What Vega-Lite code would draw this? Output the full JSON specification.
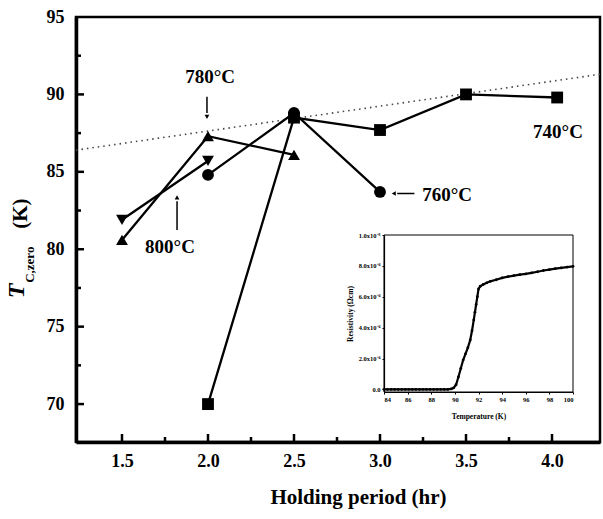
{
  "$schema": "https://vega.github.io/schema/vega-lite/v6.json",
  "width": 524,
  "height": 425,
  "autosize": "none",
  "padding": {"left": 76, "top": 17, "right": 3, "bottom": 77},
  "background": "white",
  "config": {
    "view": {"stroke": "black", "strokeWidth": 2.5},
    "font": "Liberation Serif"
  },
  "datasets": {
    "series": [
      {"series": "740", "hr": 2.0, "tc": 70.0},
      {"series": "740", "hr": 2.5, "tc": 88.5},
      {"series": "740", "hr": 3.0, "tc": 87.7},
      {"series": "740", "hr": 3.5, "tc": 90.0},
      {"series": "740", "hr": 4.03, "tc": 89.8},
      {"series": "760", "hr": 2.0, "tc": 84.8},
      {"series": "760", "hr": 2.5, "tc": 88.8},
      {"series": "760", "hr": 3.0, "tc": 83.7},
      {"series": "780", "hr": 1.5, "tc": 80.6},
      {"series": "780", "hr": 2.0, "tc": 87.3},
      {"series": "780", "hr": 2.5, "tc": 86.1},
      {"series": "800", "hr": 1.5, "tc": 81.9},
      {"series": "800", "hr": 2.0, "tc": 85.7}
    ],
    "trend": [
      {"hr": 1.2326, "tc": 86.4},
      {"hr": 4.279, "tc": 91.3}
    ],
    "notes": [
      {"hr": 2.012, "tc": 91.1, "label": "780°C"},
      {"hr": 1.779, "tc": 80.14, "label": "800°C"},
      {"hr": 3.39, "tc": 83.5, "label": "760°C"},
      {"hr": 4.035, "tc": 87.57, "label": "740°C"}
    ],
    "arrows": [
      {"hr": 1.994, "tc": 89.85, "hr2": 1.994, "tc2": 88.8},
      {"hr": 1.82, "tc": 81.24, "hr2": 1.82, "tc2": 83.1},
      {"hr": 3.2, "tc": 83.6, "hr2": 3.1, "tc2": 83.6}
    ],
    "heads": [
      {"hr": 1.994, "tc": 88.55, "series": "down"},
      {"hr": 1.82, "tc": 83.35, "series": "up"},
      {"hr": 3.08, "tc": 83.6, "series": "left"}
    ],
    "xticks": [
      {"hr": 1.5, "kind": "major"}, {"hr": 1.75, "kind": "minor"},
      {"hr": 2.0, "kind": "major"}, {"hr": 2.25, "kind": "minor"},
      {"hr": 2.5, "kind": "major"}, {"hr": 2.75, "kind": "minor"},
      {"hr": 3.0, "kind": "major"}, {"hr": 3.25, "kind": "minor"},
      {"hr": 3.5, "kind": "major"}, {"hr": 3.75, "kind": "minor"},
      {"hr": 4.0, "kind": "major"}
    ],
    "yticks": [
      {"tc": 70, "kind": "major"}, {"tc": 72.5, "kind": "minor"},
      {"tc": 75, "kind": "major"}, {"tc": 77.5, "kind": "minor"},
      {"tc": 80, "kind": "major"}, {"tc": 82.5, "kind": "minor"},
      {"tc": 85, "kind": "major"}, {"tc": 87.5, "kind": "minor"},
      {"tc": 90, "kind": "major"}, {"tc": 92.5, "kind": "minor"}
    ],
    "inset": [
      {"T": 84.0, "rho": 0.0}, {"T": 84.3, "rho": 0.0}, {"T": 84.6, "rho": 0.0},
      {"T": 84.9, "rho": 0.0}, {"T": 85.2, "rho": 0.0}, {"T": 85.5, "rho": 0.0},
      {"T": 85.8, "rho": 0.0}, {"T": 86.1, "rho": 0.0}, {"T": 86.4, "rho": 0.0},
      {"T": 86.7, "rho": 0.0}, {"T": 87.0, "rho": 0.0}, {"T": 87.3, "rho": 0.0},
      {"T": 87.6, "rho": 0.0}, {"T": 87.9, "rho": 0.0}, {"T": 88.2, "rho": 0.0},
      {"T": 88.5, "rho": 0.0}, {"T": 88.8, "rho": 0.0}, {"T": 89.1, "rho": 0.0},
      {"T": 89.4, "rho": 0.0}, {"T": 89.7, "rho": 0.000003},
      {"T": 89.9, "rho": 0.00001}, {"T": 90.1, "rho": 0.00003},
      {"T": 90.3, "rho": 0.00008}, {"T": 90.5, "rho": 0.000135},
      {"T": 90.7, "rho": 0.00019}, {"T": 90.9, "rho": 0.00023},
      {"T": 91.1, "rho": 0.00027}, {"T": 91.3, "rho": 0.00032},
      {"T": 91.45, "rho": 0.00038}, {"T": 91.6, "rho": 0.00045},
      {"T": 91.7, "rho": 0.0005}, {"T": 91.8, "rho": 0.00055},
      {"T": 91.9, "rho": 0.0006}, {"T": 92.0, "rho": 0.00065},
      {"T": 92.15, "rho": 0.000668}, {"T": 92.4, "rho": 0.00068},
      {"T": 92.7, "rho": 0.00069}, {"T": 93.0, "rho": 0.0007},
      {"T": 93.5, "rho": 0.00071}, {"T": 94.0, "rho": 0.000722},
      {"T": 94.5, "rho": 0.00073}, {"T": 95.0, "rho": 0.000737},
      {"T": 95.5, "rho": 0.000743}, {"T": 96.0, "rho": 0.000748},
      {"T": 96.5, "rho": 0.000755}, {"T": 97.0, "rho": 0.000762},
      {"T": 97.5, "rho": 0.00077}, {"T": 98.0, "rho": 0.000776},
      {"T": 98.5, "rho": 0.000782}, {"T": 99.0, "rho": 0.000787},
      {"T": 99.5, "rho": 0.000792}, {"T": 100.0, "rho": 0.000797}
    ]
  },
  "layer": [
    {
      "layer": [
        {
          "data": {"name": "trend"},
          "mark": {"type": "line", "color": "#444", "strokeWidth": 1.6, "strokeDash": [1.5, 4]},
          "encoding": {
            "x": {
              "field": "hr", "type": "quantitative",
              "scale": {"domain": [1.2326, 4.279], "nice": false, "zero": false},
              "axis": {
                "orient": "bottom",
                "title": "Holding period (hr)",
                "values": [1.5, 2, 2.5, 3, 3.5, 4],
                "format": ".1f",
                "ticks": false,
                "domainColor": "black", "domainWidth": 3.5,
                "grid": false,
                "labelFont": "Liberation Serif", "labelFontWeight": "bold", "labelFontSize": 18, "labelColor": "black",
                "labelPadding": 10,
                "titleFont": "Liberation Serif", "titleFontWeight": "bold", "titleFontSize": 21, "titleColor": "black",
                "titleX": 282, "titleY": 61, "titleBaseline": "alphabetic", "titleAlign": "center"
              }
            },
            "y": {
              "field": "tc", "type": "quantitative",
              "scale": {"domain": [67.55, 95], "nice": false, "zero": false},
              "axis": {
                "orient": "left",
                "title": null,
                "values": [70, 75, 80, 85, 90, 95],
                "format": "d",
                "ticks": false,
                "domainColor": "black", "domainWidth": 3.5,
                "grid": false,
                "labelFont": "Liberation Serif", "labelFontWeight": "bold", "labelFontSize": 18, "labelColor": "black",
                "labelPadding": 12
              }
            }
          }
        },
        {
          "data": {"name": "xticks"},
          "transform": [{"filter": "datum.kind === 'major'"}],
          "mark": {"type": "tick", "orient": "vertical", "color": "black", "thickness": 2.5, "opacity": 1, "size": 8, "yOffset": -4},
          "encoding": {
            "x": {"field": "hr", "type": "quantitative"},
            "y": {"datum": 67.55, "type": "quantitative"}
          }
        },
        {
          "data": {"name": "xticks"},
          "transform": [{"filter": "datum.kind === 'minor'"}],
          "mark": {"type": "tick", "orient": "vertical", "color": "black", "thickness": 2.5, "opacity": 1, "size": 5, "yOffset": -2.5},
          "encoding": {
            "x": {"field": "hr", "type": "quantitative"},
            "y": {"datum": 67.55, "type": "quantitative"}
          }
        },
        {
          "data": {"name": "yticks"},
          "transform": [{"filter": "datum.kind === 'major'"}],
          "mark": {"type": "tick", "orient": "horizontal", "color": "black", "thickness": 2.5, "opacity": 1, "size": 8, "xOffset": 4},
          "encoding": {
            "y": {"field": "tc", "type": "quantitative"},
            "x": {"datum": 1.2326, "type": "quantitative"}
          }
        },
        {
          "data": {"name": "yticks"},
          "transform": [{"filter": "datum.kind === 'minor'"}],
          "mark": {"type": "tick", "orient": "horizontal", "color": "black", "thickness": 2.5, "opacity": 1, "size": 5, "xOffset": 2.5},
          "encoding": {
            "y": {"field": "tc", "type": "quantitative"},
            "x": {"datum": 1.2326, "type": "quantitative"}
          }
        },
        {
          "data": {"name": "series"},
          "mark": {"type": "line", "color": "black", "strokeWidth": 2.3},
          "encoding": {
            "x": {"field": "hr", "type": "quantitative"},
            "y": {"field": "tc", "type": "quantitative"},
            "detail": {"field": "series"}
          }
        },
        {
          "data": {"name": "series"},
          "mark": {"type": "point", "filled": true, "color": "black", "opacity": 1, "size": 140},
          "encoding": {
            "x": {"field": "hr", "type": "quantitative"},
            "y": {"field": "tc", "type": "quantitative"},
            "shape": {
              "field": "series", "type": "nominal",
              "scale": {
                "domain": ["740", "760", "780", "800", "down", "up", "left"],
                "range": ["square", "circle", "triangle-up", "triangle-down", "triangle-down", "triangle-up", "triangle-left"]
              },
              "legend": null
            }
          }
        },
        {
          "data": {"name": "arrows"},
          "mark": {"type": "rule", "color": "black", "strokeWidth": 1.5},
          "encoding": {
            "x": {"field": "hr", "type": "quantitative"},
            "y": {"field": "tc", "type": "quantitative"},
            "x2": {"field": "hr2"},
            "y2": {"field": "tc2"}
          }
        },
        {
          "data": {"name": "heads"},
          "mark": {"type": "point", "filled": true, "color": "black", "opacity": 1, "size": 22},
          "encoding": {
            "x": {"field": "hr", "type": "quantitative"},
            "y": {"field": "tc", "type": "quantitative"},
            "shape": {"field": "series", "type": "nominal", "legend": null}
          }
        },
        {
          "data": {"name": "notes"},
          "mark": {"type": "text", "font": "Liberation Serif", "fontWeight": "bold", "fontSize": 19, "color": "black", "align": "center", "baseline": "middle"},
          "encoding": {
            "x": {"field": "hr", "type": "quantitative"},
            "y": {"field": "tc", "type": "quantitative"},
            "text": {"field": "label"}
          }
        },
        {
          "data": {"values": [{"hr": 0.89, "tc": 77.3, "label": "T"}]},
          "mark": {"type": "text", "font": "Liberation Serif", "fontWeight": "bold", "fontStyle": "italic", "fontSize": 24, "color": "black", "angle": 270, "align": "center", "baseline": "middle"},
          "encoding": {
            "x": {"field": "hr", "type": "quantitative"},
            "y": {"field": "tc", "type": "quantitative"},
            "text": {"field": "label"}
          }
        },
        {
          "data": {"values": [{"hr": 0.965, "tc": 79.0, "label": "C,zero"}]},
          "mark": {"type": "text", "font": "Liberation Serif", "fontWeight": "bold", "fontSize": 13, "color": "black", "angle": 270, "align": "center", "baseline": "middle"},
          "encoding": {
            "x": {"field": "hr", "type": "quantitative"},
            "y": {"field": "tc", "type": "quantitative"},
            "text": {"field": "label"}
          }
        },
        {
          "data": {"values": [{"hr": 0.915, "tc": 82.3, "label": "(K)"}]},
          "mark": {"type": "text", "font": "Liberation Serif", "fontWeight": "bold", "fontSize": 21, "color": "black", "angle": 270, "align": "center", "baseline": "middle"},
          "encoding": {
            "x": {"field": "hr", "type": "quantitative"},
            "y": {"field": "tc", "type": "quantitative"},
            "text": {"field": "label"}
          }
        }
      ]
    },
    {
      "layer": [
        {
          "data": {"values": [{"T0": 84, "T1": 100, "r0": -0.000017, "r1": 0.001}]},
          "mark": {"type": "rect", "fill": null, "stroke": "black", "strokeWidth": 1},
          "encoding": {
            "x": {
              "field": "T0", "type": "quantitative",
              "scale": {"domain": [84, 100], "range": [308, 497], "nice": false, "zero": false},
              "axis": {
                "orient": "bottom", "offset": -50, "title": "Temperature (K)",
                "values": [84, 86, 88, 90, 92, 94, 96, 98, 100],
                "tickSize": 2, "tickColor": "black", "domainColor": "black", "domainWidth": 1.2,
                "grid": false,
                "labelFont": "Liberation Serif", "labelFontWeight": "bold", "labelFontSize": 6.5, "labelColor": "black",
                "labelPadding": 2,
                "titleFont": "Liberation Serif", "titleFontWeight": "bold", "titleFontSize": 7.5, "titleColor": "black",
                "titlePadding": 10
              }
            },
            "x2": {"field": "T1"},
            "y": {
              "field": "r0", "type": "quantitative",
              "scale": {"domain": [-0.000017, 0.001], "range": [375, 218], "nice": false, "zero": false},
              "axis": {
                "orient": "left", "offset": -308, "title": "Resistivity (Ωcm)",
                "values": [0, 0.0002, 0.0004, 0.0006, 0.0008, 0.001],
                "labelExpr": "datum.value === 0 ? '0.0' : datum.value < 0.00099 ? format(datum.value * 10000, '.1f') + 'x10⁻⁴' : '1.0x10⁻³'",
                "tickSize": 2, "tickColor": "black", "domainColor": "black", "domainWidth": 1.2,
                "grid": false,
                "labelFont": "Liberation Serif", "labelFontWeight": "bold", "labelFontSize": 6.5, "labelColor": "black",
                "labelPadding": 2,
                "titleFont": "Liberation Serif", "titleFontWeight": "bold", "titleFontSize": 7.5, "titleColor": "black",
                "titlePadding": 4
              }
            },
            "y2": {"field": "r1"}
          }
        },
        {
          "data": {"name": "inset"},
          "mark": {"type": "line", "color": "black", "strokeWidth": 2.2},
          "encoding": {
            "x": {"field": "T", "type": "quantitative"},
            "y": {"field": "rho", "type": "quantitative"}
          }
        },
        {
          "data": {"name": "inset"},
          "mark": {"type": "point", "filled": true, "color": "black", "opacity": 1, "size": 8},
          "encoding": {
            "x": {"field": "T", "type": "quantitative"},
            "y": {"field": "rho", "type": "quantitative"}
          }
        }
      ]
    }
  ],
  "resolve": {"scale": {"x": "independent", "y": "independent", "shape": "independent"}}
}
